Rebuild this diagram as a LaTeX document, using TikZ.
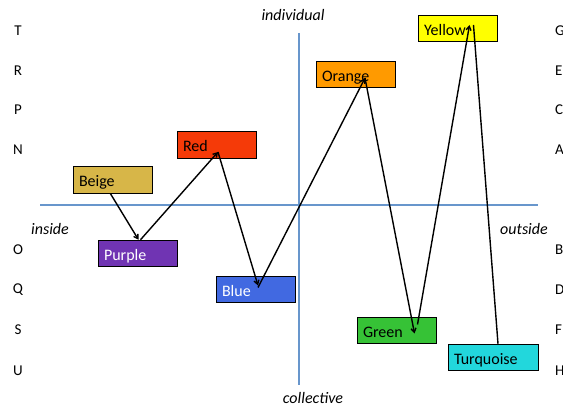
\documentclass[tikz,border=0pt]{standalone}
\usepackage{fontspec}
\setmainfont{Carlito}
\usetikzlibrary{arrows.meta}
\definecolor{axisblue}{RGB}{104,150,204}
\definecolor{cbeige}{RGB}{215,182,72}
\definecolor{cred}{RGB}{245,58,8}
\definecolor{cpurple}{RGB}{112,52,179}
\definecolor{cblue}{RGB}{65,105,225}
\definecolor{corange}{RGB}{255,154,0}
\definecolor{cyellow}{RGB}{255,255,0}
\definecolor{cgreen}{RGB}{54,194,54}
\definecolor{cturq}{RGB}{34,215,220}
\tikzset{
  stage/.style={draw=black, line width=1pt, minimum height=26.5pt, text width=67pt,
    text height=14pt, text depth=0pt,
    align=left, inner xsep=6pt, inner ysep=0pt, font=\fontsize{16}{18}\selectfont},
  axis/.style={draw=axisblue, line width=1.6pt},
  lvl/.style={font=\fontsize{15}{17}\selectfont, inner sep=0pt},
  pole/.style={font=\fontsize{16}{18}\selectfont\itshape, inner sep=0pt},
  move/.style={draw=black, line width=1.4pt, -{Straight Barb[length=4pt,width=5pt]}},
  lastmove/.style={draw=black, line width=1.4pt}
}
\begin{document}
\begin{tikzpicture}[x=1pt,y=1pt]
\useasboundingbox (0,0) rectangle (563,-409);
% quadrant axes
\coordinate (hl) at (40,-205);
\coordinate (hr) at (538,-205);
\coordinate (vt) at (299,-33);
\coordinate (vb) at (299,-385);
\draw[axis] (hl) -- (hr);
\draw[axis] (vt) -- (vb);
% axis poles
\node[pole] (ind) at (293,-15) {individual};
\node[pole] (col) at (313,-398) {collective};
\node[pole] (ins) at (50,-229) {inside};
\node[pole] (out) at (524,-229) {outside};
% level letters, left column
\node[lvl] (lT) at (18,-31) {T};
\node[lvl] (lR) at (18,-71) {R};
\node[lvl] (lP) at (18,-110) {P};
\node[lvl] (lN) at (18,-150) {N};
\node[lvl] (lO) at (18,-250) {O};
\node[lvl] (lQ) at (18,-290) {Q};
\node[lvl] (lS) at (18,-330) {S};
\node[lvl] (lU) at (18,-371) {U};
% level letters, right column (running past the right edge)
\node[lvl,anchor=west] (rG) at (555,-31) {G};
\node[lvl,anchor=west] (rE) at (555,-71) {E};
\node[lvl,anchor=west] (rC) at (555,-110) {C};
\node[lvl,anchor=west] (rA) at (555,-150) {A};
\node[lvl,anchor=west] (rB) at (555,-250) {B};
\node[lvl,anchor=west] (rD) at (555,-290) {D};
\node[lvl,anchor=west] (rF) at (555,-330) {F};
\node[lvl,anchor=west] (rH) at (555,-371) {H};
% stages
\node[stage, fill=cbeige] (beige) at (112.5,-180) {Beige};
\node[stage, fill=cpurple, text=white] (purple) at (137.5,-253.5) {Purple};
\node[stage, fill=cred] (red) at (216.5,-145) {Red};
\node[stage, fill=cblue, text=white] (blue) at (255.5,-289.5) {Blue};
\node[stage, fill=corange] (orange) at (355.5,-74.5) {Orange};
\node[stage, fill=cgreen] (green) at (396.5,-330.5) {Green};
\node[stage, fill=cyellow] (yellow) at (457.5,-28.5) {Yellow};
\node[stage, fill=cturq, text width=78pt] (turq) at (493,-357.5) {Turquoise};
% spiral path between stages
\draw[move] ([xshift=-2pt]beige.south) -- ([xshift=1pt]purple.north);
\draw[move] ([xshift=3pt]purple.north) -- ([xshift=1.5pt,yshift=-7pt]red.center);
\draw[move] ([xshift=1.5pt,yshift=-7pt]red.center) -- ([xshift=2.5pt,yshift=4pt]blue.center);
\draw[move] ([xshift=2.5pt,yshift=2pt]blue.center) -- ([xshift=9.5pt,yshift=-3.5pt]orange.center);
\draw[move] ([xshift=9.5pt,yshift=-3.5pt]orange.center) -- ([xshift=18pt,yshift=-3pt]green.center);
\draw[move] ([xshift=21pt,yshift=6pt]green.center) -- ([xshift=12pt,yshift=3.5pt]yellow.center);
\draw[lastmove] ([xshift=16pt,yshift=3.5pt]yellow.center) -- ([xshift=5pt]turq.north);
\end{tikzpicture}
\end{document}
